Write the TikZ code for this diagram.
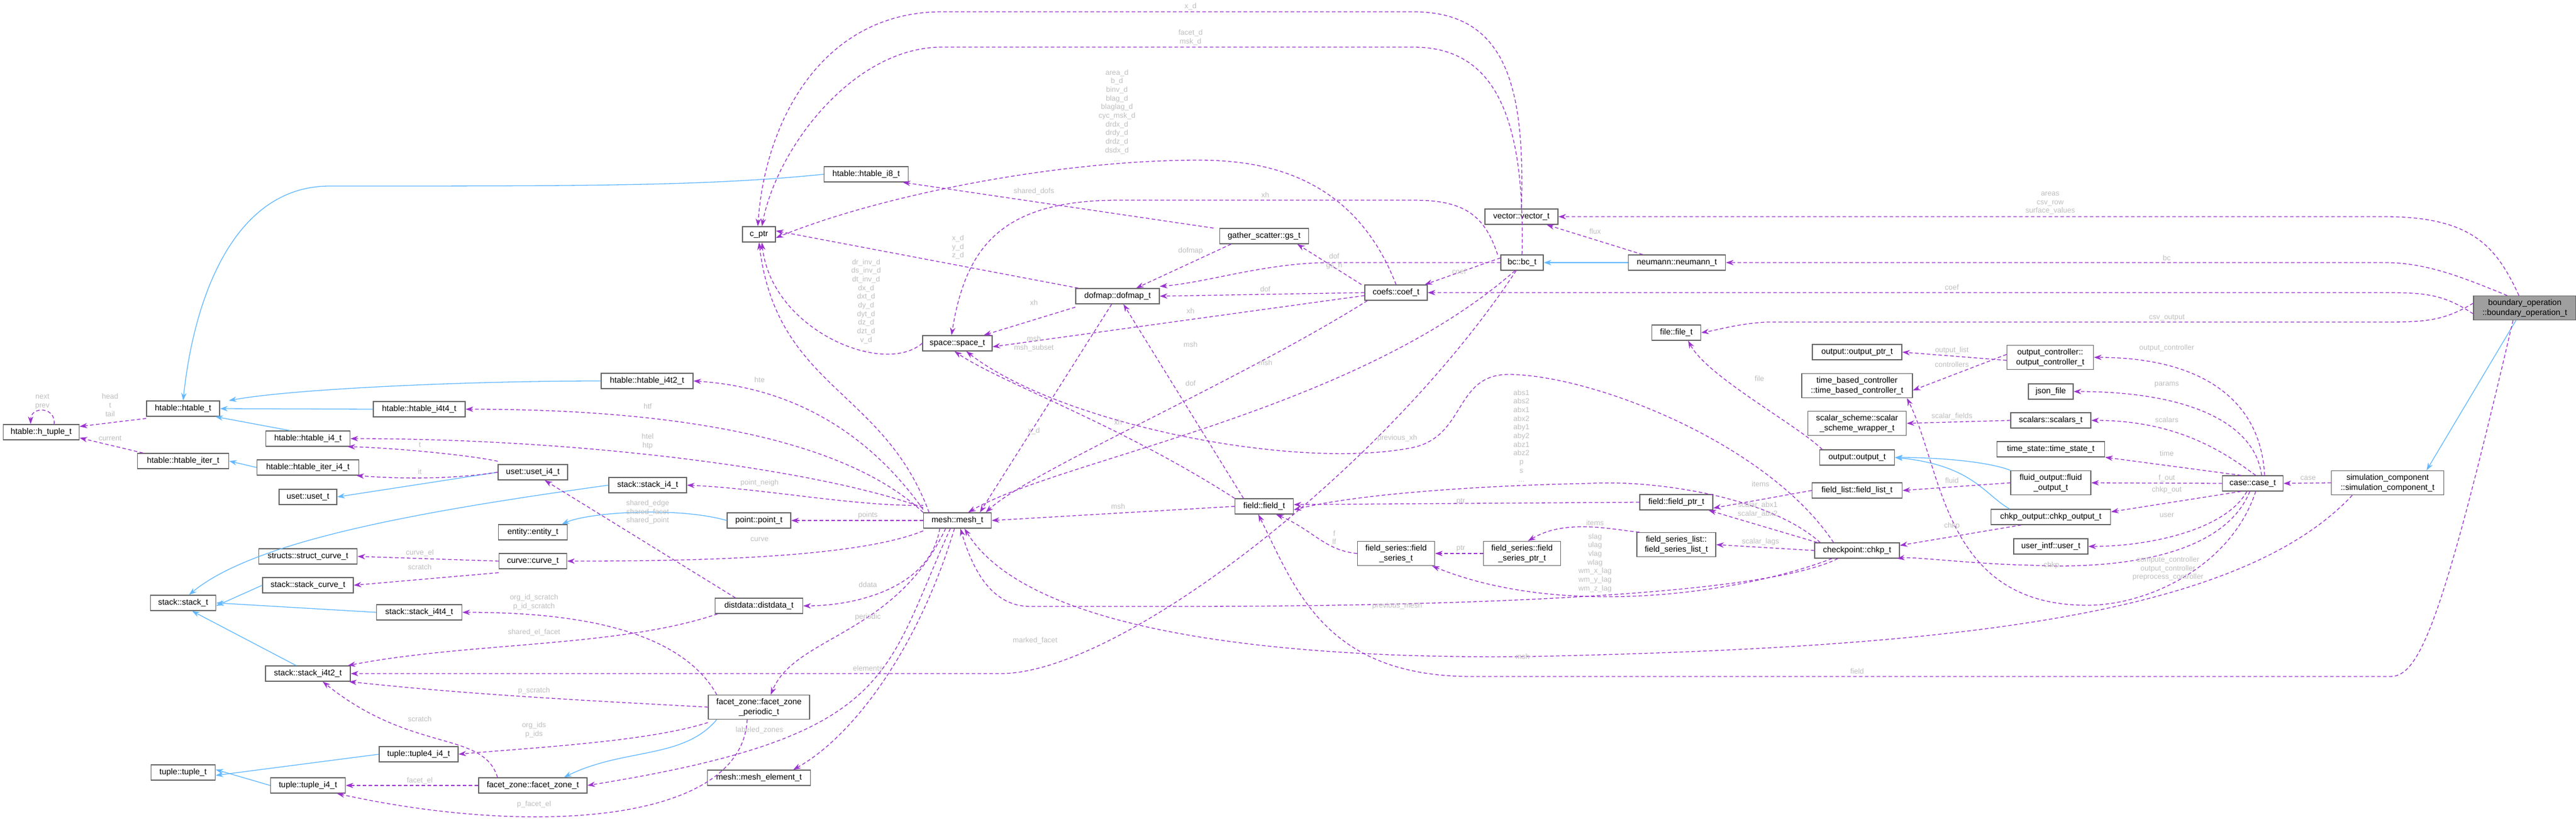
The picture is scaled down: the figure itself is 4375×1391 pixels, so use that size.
\documentclass[tikz,border=0pt]{standalone}
\usepackage{fontspec}
\setmainfont{Liberation Sans}
\usetikzlibrary{arrows.meta}
\definecolor{ucol}{HTML}{9A32CD}
\definecolor{icol}{HTML}{63B8FF}
\definecolor{lcol}{HTML}{BDBDBD}
\definecolor{bcol}{HTML}{666666}
\begin{document}
\begin{tikzpicture}[x=1pt,y=-1pt,
 box/.style={draw=bcol,fill=white,line width=1.3pt,inner sep=0pt,minimum height=26pt,align=center,font=\fontsize{14}{17}\selectfont},
 tall/.style={minimum height=41pt},
 u/.style={draw=ucol,dashed,dash pattern=on 6pt off 4pt,line width=1.3pt,-{Stealth[length=13pt,width=9pt]}},
 inh/.style={draw=icol,line width=1.3pt,-{Stealth[length=13pt,width=9pt]}},
 lb/.style={text=lcol,inner sep=0pt,align=center,font=\fontsize{12.5}{14.7}\selectfont}]
\useasboundingbox (0,0) rectangle (4375,1391);
% nodes
\node[box,minimum width=129pt] (htuple) at (70,734) {htable::h\_tuple\_t};
\node[box,minimum width=124pt] (htable) at (311,694) {htable::htable\_t};
\node[box,minimum width=155pt] (hiter) at (311,783) {htable::htable\_iter\_t};
\node[box,minimum width=143pt] (hi4) at (523,745) {htable::htable\_i4\_t};
\node[box,minimum width=173pt] (hiteri4) at (523,794) {htable::htable\_iter\_i4\_t};
\node[box,minimum width=156pt] (hi4t4) at (712,695) {htable::htable\_i4t4\_t};
\node[box,minimum width=156pt] (hi4t2) at (1099,647) {htable::htable\_i4t2\_t};
\node[box,minimum width=143pt] (hi8) at (1471,296) {htable::htable\_i8\_t};
\node[box,minimum width=56pt] (cptr) at (1289,398) {c\_ptr};
\node[box,minimum width=98pt] (uset) at (523,844) {uset::uset\_t};
\node[box,minimum width=118pt] (useti4) at (905,802) {uset::uset\_i4\_t};
\node[box,minimum width=132pt] (stacki4) at (1100,824) {stack::stack\_i4\_t};
\node[box,minimum width=108pt] (point) at (1289,884) {point::point\_t};
\node[box,minimum width=117pt] (entity) at (905,904) {entity::entity\_t};
\node[box,minimum width=167pt] (structcurve) at (523,945) {structs::struct\_curve\_t};
\node[box,minimum width=115pt] (curve) at (905,953) {curve::curve\_t};
\node[box,minimum width=154pt] (stackcurve) at (523,994) {stack::stack\_curve\_t};
\node[box,minimum width=111pt] (stack) at (311,1024) {stack::stack\_t};
\node[box,minimum width=145pt] (stacki4t4) at (712,1040) {stack::stack\_i4t4\_t};
\node[box,minimum width=149pt] (distdata) at (1289,1029) {distdata::distdata\_t};
\node[box,minimum width=144pt] (stacki4t2) at (523,1144) {stack::stack\_i4t2\_t};
\node[box,tall,minimum width=172pt] (fzp) at (1289,1201) {facet\_zone::facet\_zone\\\_periodic\_t};
\node[box,minimum width=134pt] (tuple4) at (711,1281) {tuple::tuple4\_i4\_t};
\node[box,minimum width=109pt] (tuple) at (311,1312) {tuple::tuple\_t};
\node[box,minimum width=127pt] (tuplei4) at (523,1334) {tuple::tuple\_i4\_t};
\node[box,minimum width=184pt] (fz) at (905,1334) {facet\_zone::facet\_zone\_t};
\node[box,minimum width=175pt] (meshel) at (1289,1321) {mesh::mesh\_element\_t};
\node[box,minimum width=115pt] (mesh) at (1626,884) {mesh::mesh\_t};
\node[box,minimum width=118pt] (space) at (1626,583) {space::space\_t};
\node[box,minimum width=142pt] (dofmap) at (1898,503) {dofmap::dofmap\_t};
\node[box,minimum width=151pt] (gs) at (2147,401) {gather\_scatter::gs\_t};
\node[box,minimum width=106pt] (coef) at (2371,497) {coefs::coef\_t};
\node[box,minimum width=72pt] (bc) at (2585,446) {bc::bc\_t};
\node[box,minimum width=124pt] (vector) at (2584,368) {vector::vector\_t};
\node[box,minimum width=165pt] (neumann) at (2848,446) {neumann::neumann\_t};
\node[box,minimum width=83pt] (file) at (2847,565) {file::file\_t};
\node[box,minimum width=99pt] (field) at (2147,860) {field::field\_t};
\node[box,minimum width=124pt] (fieldptr) at (2847,853) {field::field\_ptr\_t};
\node[box,tall,minimum width=131pt] (fs) at (2371,940) {field\_series::field\\\_series\_t};
\node[box,tall,minimum width=131pt] (fsptr) at (2585,940) {field\_series::field\\\_series\_ptr\_t};
\node[box,tall,minimum width=134pt] (fsl) at (2847,925) {field\_series\_list::\\field\_series\_list\_t};
\node[box,minimum width=152pt] (outptr) at (3154,598) {output::output\_ptr\_t};
\node[box,tall,minimum width=147pt] (outctrl) at (3482,607) {output\_controller::\\output\_controller\_t};
\node[box,tall,minimum width=188pt] (tbc) at (3154,655) {time\_based\_controller\\::time\_based\_controller\_t};
\node[box,minimum width=76pt] (json) at (3483,665) {json\_file};
\node[box,tall,minimum width=167pt] (ssw) at (3154,719) {scalar\_scheme::scalar\\\_scheme\_wrapper\_t};
\node[box,minimum width=136pt] (scalars) at (3483,714) {scalars::scalars\_t};
\node[box,minimum width=183pt] (timestate) at (3483,763) {time\_state::time\_state\_t};
\node[box,minimum width=127pt] (output) at (3154,777) {output::output\_t};
\node[box,tall,minimum width=136pt] (fluidout) at (3483,820) {fluid\_output::fluid\\\_output\_t};
\node[box,minimum width=153pt] (fieldlist) at (3154,833) {field\_list::field\_list\_t};
\node[box,minimum width=103pt] (casen) at (3826,821) {case::case\_t};
\node[box,tall,minimum width=191pt] (simcomp) at (4055,820) {simulation\_component\\::simulation\_component\_t};
\node[box,minimum width=203pt] (chkpout) at (3483,878) {chkp\_output::chkp\_output\_t};
\node[box,minimum width=144pt] (chkp) at (3154,935) {checkpoint::chkp\_t};
\node[box,minimum width=126pt] (user) at (3483,928) {user\_intf::user\_t};
\node[box,tall,minimum width=174pt,fill=gray!75] (bop) at (4288,523) {boundary\_operation\\::boundary\_operation\_t};
% inheritance
\draw[inh] (hi8.west) .. controls (1200,316) and (1000,316) .. (560,316) .. controls (400,316) and (330,500) .. (htable.north);
\draw[inh] (hi4t2.west) .. controls (800,647) and (500,660) .. ([xshift=15pt]htable.north east);
\draw[inh] (hi4t4.west) -- (htable.east);
\draw[inh] ([xshift=-30pt]hi4.north) -- ([xshift=-8pt]htable.south east);
\draw[inh] (hiteri4.west) -- (hiter.east);
\draw[inh] (useti4.west) -- (uset.east);
\draw[inh] (stacki4.west) .. controls (700,870) and (430,920) .. ([xshift=10pt]stack.north);
\draw[inh] (stackcurve.west) -- ([yshift=-5pt]stack.east);
\draw[inh] (stacki4t4.west) -- (stack.east);
\draw[inh] ([xshift=-20pt]stacki4t2.north) -- ([xshift=15pt]stack.south);
\draw[inh] (tuple4.west) -- ([yshift=-5pt]tuple.east);
\draw[inh] (tuplei4.west) -- ([yshift=5pt]tuple.east);
\draw[inh] (point.west) .. controls (1150,860) and (1000,870) .. ([xshift=-10pt]entity.north east);
\draw[inh] ([xshift=15pt]fzp.south west) .. controls (1160,1290) and (1060,1270) .. ([xshift=-40pt]fz.north east);
\draw[inh] (neumann.west) -- (bc.east);
\draw[inh] (fluidout.north west) .. controls (3380,785) and (3300,777) .. (output.east);
\draw[inh] ([xshift=-70pt]chkpout.north) .. controls (3370,840) and (3350,790) .. (output.east);
\draw[inh] ([xshift=-15pt]bop.south) -- ([xshift=-30pt]simcomp.north east);
% usage
\draw[u] ([xshift=22pt]htuple.north) .. controls (95,690) and (52,690) .. ([xshift=-18pt]htuple.north);
\draw[u] ([yshift=-3pt]htable.south west) -- ([yshift=-4pt]htuple.north east);
\draw[u] ([xshift=10pt]hiter.north west) -- ([yshift=4pt]htuple.south east);
\draw[u] ([yshift=5pt]useti4.north west) .. controls (780,770) and (650,760) .. ([xshift=-5pt]hi4.south east);
\draw[u] (useti4.west) .. controls (780,812) and (700,815) .. ([xshift=-5pt]hiteri4.south east);
\draw[u] ([xshift=-40pt]distdata.north) -- ([xshift=20pt]useti4.south);
\draw[u] ([yshift=5pt]mesh.north west) .. controls (1450,700) and (1300,655) .. (hi4t2.east);
\draw[u] (mesh.north west) .. controls (1450,760) and (1200,695) .. (hi4t4.east);
\draw[u] ([yshift=8pt]mesh.north west) .. controls (1400,800) and (1000,745) .. (hi4.east);
\draw[u] ([yshift=12pt]mesh.north west) .. controls (1450,860) and (1300,830) .. (stacki4.east);
\draw[u] (mesh.west) -- (point.east);
\draw[u] ([yshift=-4pt]mesh.south west) .. controls (1450,950) and (1150,953) .. (curve.east);
\draw[u] (curve.west) -- (structcurve.east);
\draw[u] ([yshift=-6pt]curve.south west) -- (stackcurve.east);
\draw[u] ([xshift=-30pt]mesh.south) .. controls (1580,1000) and (1450,1029) .. (distdata.east);
\draw[u] ([xshift=15pt]fzp.north west) .. controls (1150,1060) and (950,1040) .. (stacki4t4.east);
\draw[u] ([xshift=5pt]distdata.south west) .. controls (1050,1100) and (800,1090) .. ([xshift=-5pt]stacki4t2.north east);
\draw[u] ([xshift=-10pt]bc.south) .. controls (2350,800) and (1900,1144) .. (1700,1144) -- (stacki4t2.east);
\draw[u] (fzp.west) .. controls (1000,1190) and (800,1180) .. ([xshift=-3pt]stacki4t2.south east);
\draw[u] ([xshift=-60pt]fz.north) .. controls (820,1240) and (700,1280) .. ([xshift=25pt]stacki4t2.south);
\draw[u] ([yshift=-5pt]fzp.south west) .. controls (1100,1260) and (900,1270) .. (tuple4.east);
\draw[u] (fz.west) -- (tuplei4.east);
\draw[u] ([xshift=-20pt]fzp.south) .. controls (1260,1400) and (900,1420) .. ([xshift=-15pt]tuplei4.south east);
\draw[u] ([xshift=-20pt]mesh.south) .. controls (1520,1080) and (1350,1080) .. ([xshift=20pt]fzp.north);
\draw[u] ([xshift=-12pt]mesh.south) .. controls (1500,1150) and (1520,1250) .. (fz.east);
\draw[u] ([xshift=-5pt]mesh.south) .. controls (1560,1100) and (1450,1250) .. ([xshift=-30pt]meshel.north east);
\draw[u] (vector.north) .. controls (2590,150) and (2560,20) .. (2400,20) -- (1600,20) .. controls (1400,20) and (1300,200) .. ([xshift=-2pt]cptr.north);
\draw[u] (bc.north) .. controls (2590,200) and (2540,80) .. (2400,80) -- (1600,80) .. controls (1450,80) and (1320,250) .. ([xshift=5pt]cptr.north);
\draw[u] (coef.north) .. controls (2300,300) and (2150,272) .. (2036,272) .. controls (1800,272) and (1500,330) .. ([yshift=-6pt]cptr.east);
\draw[u] ([xshift=5pt]dofmap.north west) -- ([yshift=6pt]cptr.east);
\draw[u] (space.west) .. controls (1500,640) and (1310,560) .. ([xshift=5pt]cptr.south);
\draw[u] ([xshift=10pt]mesh.north west) .. controls (1500,660) and (1320,660) .. (cptr.south);
\draw[u] ([xshift=-10pt]gs.north west) -- ([xshift=-10pt]hi8.south east);
\draw[u] ([xshift=-5pt]bc.north west) .. controls (2520,360) and (2480,340) .. (2400,340) -- (1900,340) .. controls (1700,340) and (1640,420) .. ([xshift=-10pt]space.north);
\draw[u] ([xshift=20pt]gs.south west) -- ([xshift=-40pt]dofmap.north east);
\draw[u] ([xshift=-5pt]coef.north west) -- ([xshift=-20pt]gs.south east);
\draw[u] (bc.west) -- (2260,446) .. controls (2150,446) and (2050,480) .. ([yshift=3pt]dofmap.north east);
\draw[u] ([yshift=8pt]bc.west) -- ([xshift=-5pt]coef.north east);
\draw[u] (coef.west) -- (dofmap.east);
\draw[u] ([yshift=-5pt]coef.west) -- ([yshift=-6pt]space.east);
\draw[u] ([yshift=-5pt]dofmap.south west) -- ([xshift=-15pt]space.north east);
\draw[u] ([xshift=-10pt]dofmap.south) -- ([xshift=-20pt]mesh.north east);
\draw[u] ([xshift=5pt]coef.south west) .. controls (2100,650) and (1750,800) .. ([xshift=-10pt]mesh.north east);
\draw[u] ([xshift=-12pt]bc.south) .. controls (2300,700) and (1800,780) .. ([xshift=-40pt]mesh.north east);
\draw[u] ([xshift=15pt]field.north west) -- ([xshift=10pt]dofmap.south);
\draw[u] (field.north west) .. controls (1900,720) and (1700,650) .. ([xshift=-5pt]space.south);
\draw[u] (field.west) -- (mesh.east);
\draw[u] ([xshift=-40pt]chkp.north) .. controls (3000,750) and (2700,636) .. (2562,636) .. controls (2470,636) and (2490,740) .. (2400,760) .. controls (2200,800) and (1800,720) .. ([xshift=15pt]space.south);
\draw[u] ([xshift=10pt]chkp.north west) .. controls (3000,840) and (2800,815) .. (2700,821) .. controls (2500,825) and (2300,840) .. ([yshift=-6pt]field.east);
\draw[u] (fieldptr.west) -- ([yshift=3pt]field.east);
\draw[u] (fs.west) .. controls (2250,935) and (2230,900) .. ([xshift=-30pt]field.south east);
\draw[u] (fsptr.west) -- (fs.east);
\draw[u] ([xshift=5pt]fsl.north west) .. controls (2740,900) and (2660,880) .. ([xshift=10pt]fsptr.north);
\draw[u] (fieldlist.west) -- ([yshift=-10pt]fieldptr.east);
\draw[u] ([xshift=5pt]chkp.north west) -- ([xshift=-8pt]fieldptr.south east);
\draw[u] (chkp.west) -- (fsl.east);
\draw[u] ([xshift=30pt]chkp.south west) .. controls (2950,1010) and (2650,1050) .. ([xshift=-5pt]fs.south east);
\draw[u] ([xshift=40pt]chkp.south west) .. controls (3000,1010) and (2500,1030) .. (2000,1030) -- (1750,1030) .. controls (1680,1030) and (1650,960) .. ([xshift=5pt]mesh.south);
\draw[u] ([xshift=-60pt]simcomp.south) .. controls (3800,1050) and (3300,1100) .. (2600,1115) .. controls (2200,1120) and (1750,1080) .. ([xshift=12pt]mesh.south);
\draw[u] ([xshift=-20pt]bop.south) .. controls (4150,1050) and (4110,1149) .. (4060,1149) -- (2500,1149) .. controls (2250,1149) and (2200,1000) .. ([xshift=-10pt]field.south);
\draw[u] ([xshift=-10pt]bop.north) .. controls (4240,420) and (4200,368) .. (4050,368) -- (vector.east);
\draw[u] ([xshift=-30pt]bop.north) .. controls (4180,470) and (4120,446) .. (4050,446) -- (neumann.east);
\draw[u] ([yshift=-10pt]bop.west) .. controls (4150,500) and (4120,497) .. (4050,497) -- (coef.east);
\draw[u] ([yshift=8pt]bop.west) .. controls (4150,545) and (4120,547) .. (4050,547) -- (3000,547) .. controls (2950,550) and (2920,560) .. (file.east);
\draw[u] ([xshift=25pt]neumann.north west) -- ([xshift=-20pt]vector.south east);
\draw[u] ([xshift=5pt]output.north west) .. controls (3050,720) and (2900,640) .. ([xshift=20pt]file.south);
\draw[u] ([yshift=-5pt]outctrl.west) -- (outptr.east);
\draw[u] ([yshift=5pt]outctrl.west) -- ([yshift=-8pt]tbc.east);
\draw[u] (scalars.west) -- (ssw.east);
\draw[u] (fluidout.west) -- (fieldlist.east);
\draw[u] ([xshift=-50pt]chkpout.south) -- ([yshift=-5pt]chkp.north east);
\draw[u] ([xshift=20pt]casen.north) .. controls (3840,680) and (3740,607) .. (outctrl.east);
\draw[u] ([xshift=15pt]casen.north) .. controls (3830,720) and (3720,665) .. (json.east);
\draw[u] ([xshift=5pt]casen.north) .. controls (3780,770) and (3700,714) .. (scalars.east);
\draw[u] ([xshift=-20pt]casen.north) -- (timestate.south east);
\draw[u] (casen.west) -- (fluidout.east);
\draw[u] ([xshift=-20pt]casen.south) -- ([yshift=-5pt]chkpout.north east);
\draw[u] ([xshift=-10pt]casen.south) .. controls (3780,900) and (3650,928) .. (user.east);
\draw[u] ([xshift=-5pt]casen.south) .. controls (3770,960) and (3550,965) .. (3450,960) .. controls (3350,958) and (3250,945) .. ([xshift=-5pt]chkp.south east);
\draw[u] ([xshift=5pt]casen.south) .. controls (3790,960) and (3650,1028) .. (3545,1028) .. controls (3300,1028) and (3300,800) .. ([xshift=-10pt]tbc.south east);
\draw[u] (simcomp.west) -- (casen.east);
% labels
\node[lb] (l1) at (72,682) {next\\prev};
\node[lb] (l2) at (187,688) {head\\t\\tail};
\node[lb] (l3) at (187,745) {current};
\node[lb] (l4) at (713,756) {t};
\node[lb] (l5) at (713,801) {it};
\node[lb] (l6) at (1290,645) {hte};
\node[lb] (l7) at (1100,690) {htf};
\node[lb] (l8) at (1100,750) {htel\\htp};
\node[lb] (l9) at (1290,820) {point\_neigh};
\node[lb] (l10) at (1100,870) {shared\_edge\\shared\_facet\\shared\_point};
\node[lb] (l11) at (1474,875) {points};
\node[lb] (l12) at (1290,916) {curve};
\node[lb] (l13) at (713,939) {curve\_el};
\node[lb] (l14) at (713,963) {scratch};
\node[lb] (l15) at (1474,993) {ddata};
\node[lb] (l16) at (907,1023) {org\_id\_scratch\\p\_id\_scratch};
\node[lb] (l17) at (1474,1048) {periodic};
\node[lb] (l18) at (907,1074) {shared\_el\_facet};
\node[lb] (l19) at (1474,1135) {elements};
\node[lb] (l20) at (907,1173) {p\_scratch};
\node[lb] (l21) at (713,1221) {scratch};
\node[lb] (l22) at (907,1240) {org\_ids\\p\_ids};
\node[lb] (l23) at (1290,1240) {labeled\_zones};
\node[lb] (l24) at (713,1326) {facet\_el};
\node[lb] (l25) at (907,1366) {p\_facet\_el};
\node[lb] (l26) at (2022,11) {x\_d};
\node[lb] (l27) at (2022,64) {facet\_d\\msk\_d};
\node[lb] (l28) at (1897,196) {area\_d\\b\_d\\binv\_d\\blag\_d\\blaglag\_d\\cyc\_msk\_d\\drdx\_d\\drdy\_d\\drdz\_d\\dsdx\_d\\...};
\node[lb] (l29) at (1756,325) {shared\_dofs};
\node[lb] (l30) at (2149,331) {xh};
\node[lb] (l31) at (1627,420) {x\_d\\y\_d\\z\_d};
\node[lb] (l32) at (2022,426) {dofmap};
\node[lb] (l33) at (2266,444) {dof\\gs\_h};
\node[lb] (l34) at (2478,461) {coef};
\node[lb] (l35) at (2709,393) {flux};
\node[lb] (l36) at (2149,491) {dof};
\node[lb] (l37) at (1756,514) {xh};
\node[lb] (l38) at (2022,528) {xh};
\node[lb] (l39) at (1756,584) {msh\\msh\_subset};
\node[lb] (l40) at (2022,585) {msh};
\node[lb] (l41) at (2149,616) {msh};
\node[lb] (l42) at (2022,651) {dof};
\node[lb] (l43) at (2988,643) {file};
\node[lb] (l44) at (1471,518) {dr\_inv\_d\\ds\_inv\_d\\dt\_inv\_d\\dx\_d\\dxt\_d\\dy\_d\\dyt\_d\\dz\_d\\dzt\_d\\v\_d\\...};
\node[lb] (l45) at (1756,732) {x\_d};
\node[lb] (l46) at (1899,717) {xh};
\node[lb] (l47) at (2373,744) {previous\_xh};
\node[lb] (l48) at (2584,740) {abs1\\abs2\\abx1\\abx2\\aby1\\aby2\\abz1\\abz2\\p\\s\\...};
\node[lb] (l49) at (1899,860) {msh};
\node[lb] (l50) at (2481,852) {ptr};
\node[lb] (l51) at (2709,888) {items};
\node[lb] (l52) at (2266,913) {f\\lf};
\node[lb] (l53) at (2481,932) {ptr};
\node[lb] (l54) at (2709,956) {slag\\ulag\\vlag\\wlag\\wm\_x\_lag\\wm\_y\_lag\\wm\_z\_lag};
\node[lb] (l55) at (2373,1029) {previous\_mesh};
\node[lb] (l56) at (1758,1088) {marked\_facet};
\node[lb] (l57) at (2586,1115) {msh};
\node[lb] (l58) at (2985,866) {scalar\_abx1\\scalar\_abx2};
\node[lb] (l59) at (2990,920) {scalar\_lags};
\node[lb] (l60) at (2990,822) {items};
\node[lb] (l61) at (3482,345) {areas\\csv\_row\\surface\_values};
\node[lb] (l62) at (3680,438) {bc};
\node[lb] (l63) at (3315,488) {coef};
\node[lb] (l64) at (3680,540) {csv\_output};
\node[lb] (l65) at (3315,595) {output\_list};
\node[lb] (l66) at (3315,619) {controllers};
\node[lb] (l67) at (3680,591) {output\_controller};
\node[lb] (l68) at (3680,653) {params};
\node[lb] (l69) at (3315,707) {scalar\_fields};
\node[lb] (l70) at (3680,713) {scalars};
\node[lb] (l71) at (3680,770) {time};
\node[lb] (l72) at (3315,816) {fluid};
\node[lb] (l73) at (3680,812) {f\_out};
\node[lb] (l74) at (3680,832) {chkp\_out};
\node[lb] (l75) at (3920,812) {case};
\node[lb] (l76) at (3680,875) {user};
\node[lb] (l77) at (3315,893) {chkp};
\node[lb] (l78) at (3484,960) {chkp};
\node[lb] (l79) at (3682,966) {compute\_controller\\output\_controller\\preprocess\_controller};
\node[lb] (l80) at (3154,1140) {field};
\end{tikzpicture}
\end{document}
